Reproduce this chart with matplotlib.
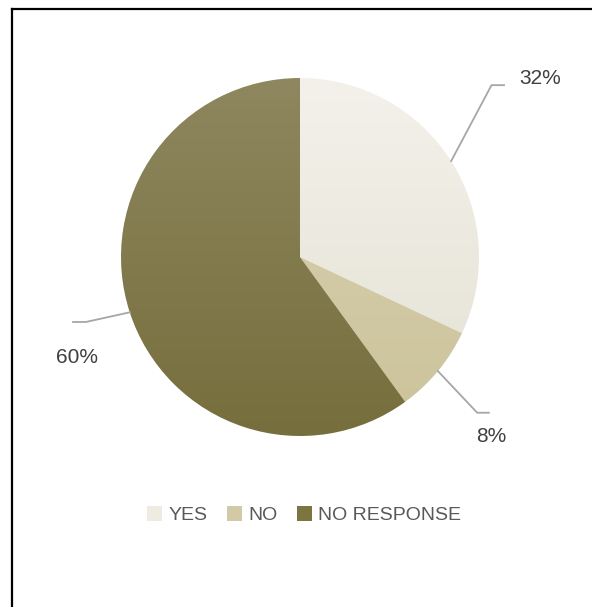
import numpy as np
import matplotlib.pyplot as plt
from matplotlib.colors import LinearSegmentedColormap
from matplotlib.patches import Patch
from matplotlib.lines import Line2D

labels = ['YES', 'NO', 'NO RESPONSE']
values = [32, 8, 60]
pct_labels = ['32%', '8%', '60%']
# (top colour, bottom colour) for the soft vertical gradient
colors_top = ['#F3F1EA', '#D9D2B2', '#8E875F']
colors_bottom = ['#E4E1D4', '#CCC39B', '#766E3C']
legend_colors = ['#EDEBE2', '#D2CAA6', '#7C7441']

plt.rcParams['font.family'] = ['Liberation Sans', 'DejaVu Sans']

W, H = 592, 607
fig = plt.figure(figsize=(W / 100, H / 100), dpi=100)
fig.patch.set_facecolor('white')

# pie axes: centre (300, 257) px, radius 179 px
cx, cy, r = 300, 257, 179
ax = fig.add_axes([(cx - r) / W, (H - cy - r) / H, 2 * r / W, 2 * r / H])

wedges, _ = ax.pie(values, startangle=90, counterclock=False, radius=1,
                   colors=legend_colors, wedgeprops=dict(linewidth=0))

grad = np.linspace(0, 1, 256).reshape(-1, 1)
for w, ct, cb in zip(wedges, colors_top, colors_bottom):
    cmap = LinearSegmentedColormap.from_list('g', [ct, cb])
    w.set_facecolor('none')
    im = ax.imshow(grad, cmap=cmap, extent=(-1, 1, -1, 1), origin='upper',
                   aspect='auto', zorder=1)
    im.set_clip_path(w)

# leader lines and labels (positions relative to pie radius)
edge_pts = []
for w in wedges:
    mid = np.deg2rad((w.theta1 + w.theta2) / 2)
    edge_pts.append((np.cos(mid), np.sin(mid)))

elbows = [(1.07, 0.96), (0.99, -0.87), (-1.196, -0.363)]
ends = [(1.14, 0.96), (1.055, -0.87), (-1.268, -0.363)]
text_pos = [(1.34, 1.0), (1.07, -1.0), (-1.246, -0.559)]

for p, e, t, txt, tp in zip(edge_pts, elbows, ends, pct_labels, text_pos):
    ax.plot([p[0], e[0], t[0]], [p[1], e[1], t[1]], color='#A6A6A6', lw=1.3,
            clip_on=False, zorder=3)
    ax.text(tp[0], tp[1], txt, ha='center', va='center', fontsize=15,
            color='#404040', clip_on=False)

ax.set_xlim(-1, 1)
ax.set_ylim(-1, 1)
ax.set_aspect('auto')
ax.axis('off')

handles = [Patch(facecolor=c, edgecolor='none') for c in legend_colors]
fig.legend(handles, labels, loc='center', bbox_to_anchor=(304 / W, 1 - 515 / H),
           ncol=3, frameon=False, fontsize=14, handlelength=0.8,
           handleheight=0.8, handletextpad=0.3, columnspacing=1.0,
           labelcolor='#595959')

# outer chart border (only top and left visible)
fig.add_artist(Line2D([12 / W, 12 / W], [0, 1 - 9 / H], color='black', lw=1.6))
fig.add_artist(Line2D([12 / W, 1], [1 - 9 / H, 1 - 9 / H], color='black', lw=1.6))

fig.savefig('out.png', dpi=100)
